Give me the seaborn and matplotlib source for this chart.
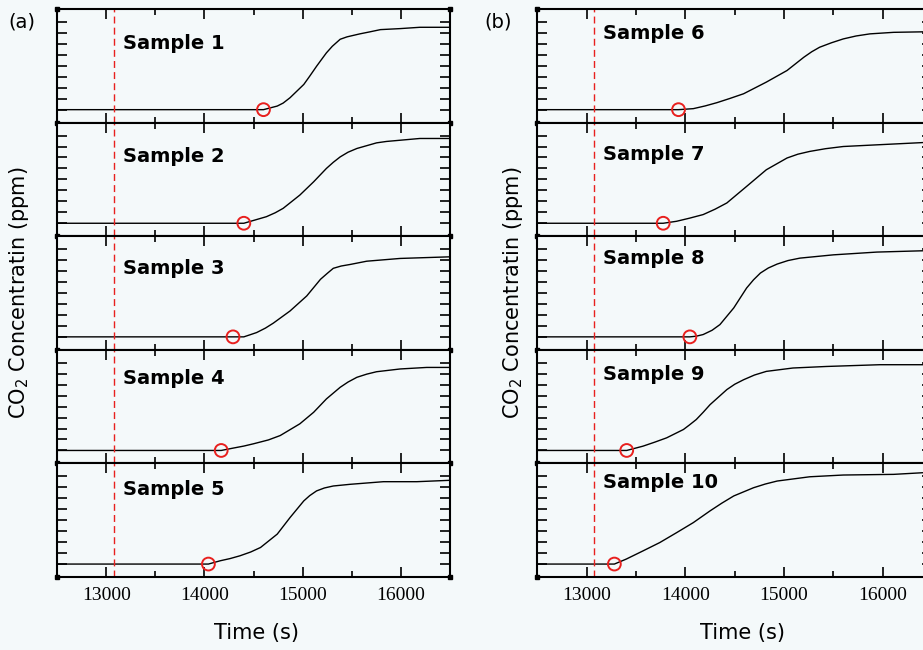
import numpy as np
import pandas as pd
import matplotlib
matplotlib.use("Agg")
import matplotlib.pyplot as plt
import seaborn as sns
from matplotlib.ticker import MultipleLocator

sns.set_style('ticks', {'axes.edgecolor': 'black', 'text.color': 'black',
                        'xtick.color': 'black', 'ytick.color': 'black'})
plt.rcParams['font.family'] = ['DejaVu Sans']

# ── data (time in s, CO2 in ppm) ─────────────────────────────────────
t1 = [12500, 14600, 14740, 14800, 14870, 15010, 15070, 15140, 15190, 15240, 15300, 15350, 15380, 15450, 15580, 15680, 15790, 15990, 16190, 16500]
c1 = [400, 400, 482, 550, 672, 975, 1163, 1390, 1543, 1695, 1845, 1945, 2005, 2060, 2128, 2173, 2225, 2248, 2278, 2278]
t2 = [12500, 14400, 14630, 14720, 14800, 14970, 15110, 15240, 15310, 15380, 15460, 15550, 15750, 15850, 15990, 16190, 16500]
c2 = [400, 400, 550, 640, 740, 1043, 1345, 1650, 1790, 1913, 2020, 2105, 2233, 2265, 2293, 2333, 2333]
t3 = [12500, 14290, 14400, 14460, 14530, 14620, 14700, 14870, 15040, 15180, 15250, 15310, 15390, 15480, 15650, 15990, 16500]
c3 = [400, 400, 400, 445, 498, 600, 713, 990, 1333, 1713, 1850, 1963, 2015, 2050, 2125, 2188, 2225]
t4 = [12500, 14170, 14290, 14400, 14500, 14650, 14770, 14970, 15110, 15240, 15380, 15460, 15550, 15650, 15750, 15990, 16260, 16500]
c4 = [400, 400, 453, 500, 553, 640, 740, 1008, 1270, 1575, 1840, 1960, 2068, 2140, 2195, 2258, 2293, 2293]
t5 = [12500, 14040, 14160, 14260, 14360, 14470, 14570, 14740, 14870, 15010, 15070, 15140, 15220, 15310, 15480, 15820, 16160, 16500]
c5 = [400, 400, 475, 525, 588, 675, 778, 1083, 1460, 1840, 1960, 2068, 2135, 2180, 2218, 2278, 2278, 2310]
t6 = [12500, 13930, 14080, 14200, 14320, 14450, 14590, 14820, 15030, 15200, 15280, 15360, 15480, 15600, 15730, 15870, 16110, 16420, 16500]
c6 = [400, 400, 423, 485, 560, 655, 763, 1028, 1293, 1595, 1720, 1823, 1925, 2013, 2080, 2128, 2163, 2175, 2175]
t7 = [12500, 13775, 13910, 14040, 14180, 14300, 14420, 14620, 14820, 15030, 15140, 15260, 15420, 15600, 15940, 16410, 16500]
c7 = [400, 400, 445, 515, 598, 720, 863, 1240, 1620, 1888, 1975, 2038, 2100, 2150, 2188, 2240, 2240]
t8 = [12500, 14045, 14110, 14180, 14270, 14350, 14490, 14620, 14690, 14760, 14840, 14930, 15040, 15160, 15500, 15940, 16410, 16500]
c8 = [400, 400, 415, 453, 550, 680, 1060, 1513, 1700, 1855, 1970, 2060, 2140, 2195, 2270, 2333, 2363, 2363]
t9 = [12500, 13405, 13570, 13690, 13810, 13980, 14040, 14110, 14180, 14250, 14420, 14500, 14590, 14700, 14820, 15090, 15430, 15970, 16500]
c9 = [400, 400, 498, 590, 688, 878, 980, 1105, 1270, 1445, 1788, 1910, 2013, 2120, 2203, 2280, 2315, 2355, 2355]
t10 = [12500, 13280, 13400, 13570, 13740, 13910, 14080, 14250, 14370, 14490, 14690, 14810, 14930, 15260, 15600, 16110, 16410, 16500]
c10 = [400, 400, 513, 700, 890, 1115, 1345, 1613, 1790, 1953, 2140, 2225, 2293, 2390, 2430, 2445, 2483, 2483]

onset_a = [14600, 14400, 14290, 14170, 14040]
onset_b = [13930, 13775, 14045, 13405, 13280]
baseline = 400
start_a = 13080
start_b = 13075
names_a = ['Sample 1', 'Sample 2', 'Sample 3', 'Sample 4', 'Sample 5']
names_b = ['Sample 6', 'Sample 7', 'Sample 8', 'Sample 9', 'Sample 10']
series_a = [(t1, c1), (t2, c2), (t3, c3), (t4, c4), (t5, c5)]
series_b = [(t6, c6), (t7, c7), (t8, c8), (t9, c9), (t10, c10)]

# label heights inside each panel (axes fraction)
lab_y_a = [0.70, 0.70, 0.72, 0.745, 0.77]
lab_y_b = [0.785, 0.72, 0.80, 0.78, 0.83]

BG = '#F4F9FA'
W, H = 923, 650
fig = plt.figure(figsize=(9.23, 6.5), dpi=100, facecolor=BG)

row_top, row_h = 9, 113.6


def make_column(x0_px, w_px, series, onsets, names, lab_ys, start):
    for i, ((t, c), on, nm, ly) in enumerate(zip(series, onsets, names, lab_ys)):
        top = row_top + row_h * i
        ax = fig.add_axes([x0_px / W, 1 - (top + row_h) / H, w_px / W, row_h / H])
        ax.set_facecolor(BG)
        df = pd.DataFrame({'time': t, 'co2': c})
        sns.lineplot(data=df, x='time', y='co2', ax=ax, color='black', lw=1.0)
        sns.scatterplot(x=[on], y=[baseline], ax=ax, s=85, facecolor='none',
                        edgecolor='#E8201E', linewidth=1.4, zorder=5, clip_on=False)
        ax.axvline(start, color='#E8201E', ls=(0, (5, 3)), lw=1.0)
        ax.set_xlim(12500, 16500)
        ax.set_ylim(105, 2695)
        ax.xaxis.set_major_locator(MultipleLocator(1000))
        ax.xaxis.set_minor_locator(MultipleLocator(500))
        ax.set_yticks(np.arange(400, 2401, 250))
        ax.tick_params(which='both', direction='in', top=True, right=True, width=1.2)
        ax.tick_params(axis='x', which='major', length=7.5)
        ax.tick_params(axis='x', which='minor', length=4)
        ax.tick_params(axis='y', length=7.5, labelleft=False)
        for s in ax.spines.values():
            s.set_linewidth(1.5)
        ax.set_xlabel('')
        ax.set_ylabel('')
        ax.text(0.167, ly, nm, transform=ax.transAxes, fontsize=14,
                fontweight='bold', va='center', ha='left')
        # small dark blocks at panel corners
        ax.plot([0, 1], [0, 0], 's', color='black', ms=3.5,
                transform=ax.transAxes, clip_on=False)
        if i == 0:
            ax.plot([0, 1], [1, 1], 's', color='black', ms=3.5,
                    transform=ax.transAxes, clip_on=False)
        if i < len(series) - 1:
            ax.tick_params(axis='x', labelbottom=False)
        else:
            ax.tick_params(axis='x', which='major', pad=7, labelsize=14)
            for lb in ax.get_xticklabels():
                lb.set_fontfamily('Liberation Serif')


make_column(57, 393.3, series_a, onset_a, names_a, lab_y_a, start_a)
make_column(537.4, 394.7, series_b, onset_b, names_b, lab_y_b, start_b)

ylab = 'CO$_2$ Concentratin (ppm)'
fig.text(19 / W, 1 - 293 / H, ylab, rotation=90, fontsize=15, ha='center', va='center')
fig.text(513 / W, 1 - 293 / H, ylab, rotation=90, fontsize=15, ha='center', va='center')
fig.text(256 / W, 1 - 633 / H, 'Time (s)', fontsize=15, ha='center', va='center')
fig.text(742 / W, 1 - 633 / H, 'Time (s)', fontsize=15, ha='center', va='center')
fig.text(8 / W, 1 - 22 / H, '(a)', fontsize=14, ha='left', va='center')
fig.text(484 / W, 1 - 22 / H, '(b)', fontsize=14, ha='left', va='center')

fig.savefig('out.png', dpi=100, facecolor=BG)
